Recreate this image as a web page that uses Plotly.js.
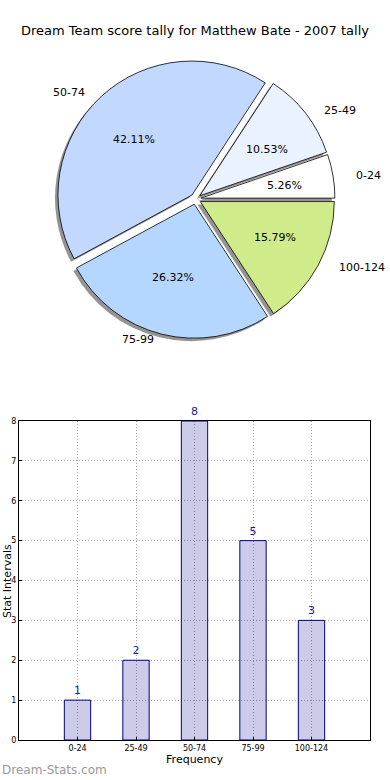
<!DOCTYPE html>
<html>
<head>
<meta charset="utf-8">
<script src="https://cdn.plot.ly/plotly-3.0.1.min.js"></script>
<style>html,body{margin:0;padding:0;background:#fff;}#chart{width:390px;height:780px;}</style>
</head>
<body>
<div id="chart"></div>
<script>
// ---- data ----
const categories = ["0-24", "25-49", "50-74", "75-99", "100-124"];
const counts = [1, 2, 8, 5, 3];
const pieColors = ["#ffffff", "#eaf1ff", "#c3d8ff", "#b5d6ff", "#cfeb8a"];
const yTicks = [0, 1, 2, 3, 4, 5, 6, 7, 8];

// ---- layout constants ----
const W = 390, H = 780;
const FONT = "DejaVu Sans, Verdana, sans-serif";
const pie = { cx: 195.6, cy: 199, r: 134, pull: 0.04, rxText: 141, ryText: 127 };
const px2x = p => p / W;
const px2y = p => 1 - p / H;
const half = pie.r * (1 + pie.pull);
const pieDomain = (dx, dy) => ({
  x: [px2x(pie.cx - half + dx), px2x(pie.cx + half + dx)],
  y: [px2y(pie.cy + half + dy), px2y(pie.cy - half + dy)]
});

const total = counts.reduce((a, b) => a + b, 0);
const pulls = counts.map(() => pie.pull);
// first slice starts at 3 o'clock and slices run counterclockwise
const rotation = 90 - 360 * counts[0] / total;

const shadowPie = {
  type: "pie", values: counts, labels: categories, sort: false,
  direction: "counterclockwise", rotation: rotation, pull: pulls,
  domain: pieDomain(-3, 3),
  marker: { colors: counts.map(() => "rgba(0,0,0,0.42)"), line: { width: 0 } },
  textinfo: "none", hoverinfo: "skip", showlegend: false
};
const mainPie = {
  type: "pie", values: counts, labels: categories, sort: false,
  direction: "counterclockwise", rotation: rotation, pull: pulls,
  domain: pieDomain(0, 0),
  marker: { colors: pieColors, line: { color: "#000000", width: 0.8 } },
  textinfo: "none", hoverinfo: "label+percent", showlegend: false
};

const bars = {
  type: "bar", x: categories, y: counts, width: 0.45,
  xaxis: "x", yaxis: "y",
  marker: { color: "rgba(0,0,140,0.2)", line: { color: "#000080", width: 1 } },
  text: counts.map(String), textposition: "outside", cliponaxis: false,
  textfont: { family: FONT, size: 11, color: "#1a1a9a" },
  hoverinfo: "x+y", showlegend: false
};

// pie text annotations (percent inside, labels outside), placed from the values
const annotations = [];
let cum = 0;
counts.forEach((v, i) => {
  const a0 = cum / total * 2 * Math.PI;
  cum += v;
  const a1 = cum / total * 2 * Math.PI;
  const mid = (a0 + a1) / 2;
  const c = Math.cos(mid), s = Math.sin(mid);
  const pctR = pie.pull + 0.6, labR = pie.pull + 1.1;
  annotations.push({
    xref: "paper", yref: "paper", showarrow: false,
    x: px2x(pie.cx + c * pctR * pie.rxText), y: px2y(pie.cy - s * pctR * pie.ryText),
    text: (v / total * 100).toFixed(2) + "%",
    font: { family: FONT, size: 11, color: "#000" }, xanchor: "center", yanchor: "middle"
  });
  annotations.push({
    xref: "paper", yref: "paper", showarrow: false,
    x: px2x(pie.cx + c * labR * pie.rxText), y: px2y(pie.cy - s * labR * pie.ryText),
    text: categories[i],
    font: { family: FONT, size: 11, color: "#000" },
    xanchor: c < 0 ? "right" : "left", yanchor: "middle"
  });
});
annotations.push({
  xref: "paper", yref: "paper", showarrow: false, x: 0, y: px2y(770),
  xanchor: "left", yanchor: "middle", text: "Dream-Stats.com",
  font: { family: FONT, size: 12, color: "#9a9a9a" }
});
annotations.push({
  xref: "paper", yref: "paper", showarrow: false, x: px2x(7), y: px2y(581),
  xanchor: "center", yanchor: "middle", textangle: -90, text: "Stat Intervals",
  font: { family: FONT, size: 11, color: "#000" }
});

const layout = {
  width: W, height: H,
  margin: { l: 0, r: 0, t: 0, b: 0 },
  paper_bgcolor: "#ffffff", plot_bgcolor: "#ffffff",
  showlegend: false,
  title: { text: "Dream Team score tally for Matthew Bate - 2007 tally",
           font: { family: FONT, size: 13, color: "#000" },
           x: 0.5, xanchor: "center", y: px2y(30), yanchor: "middle", yref: "paper" },
  xaxis: {
    domain: [px2x(19), px2x(370)], anchor: "y", type: "category",
    range: [-1, 5], showgrid: true, gridcolor: "#a8a8a8", griddash: "1px,2px", gridwidth: 1,
    showline: true, linecolor: "#000", linewidth: 1, mirror: true,
    ticks: "inside", ticklen: 3, tickcolor: "#000",
    tickfont: { family: FONT, size: 8, color: "#000" },
    title: { text: "Frequency", font: { family: FONT, size: 11, color: "#000" }, standoff: 3 },
    zeroline: false, fixedrange: true
  },
  yaxis: {
    domain: [px2y(740), px2y(421)], anchor: "x",
    range: [0, 8], tickvals: yTicks, ticktext: yTicks.map(String),
    showgrid: true, gridcolor: "#a8a8a8", griddash: "1px,2px", gridwidth: 1,
    showline: true, linecolor: "#000", linewidth: 1, mirror: true,
    ticks: "inside", ticklen: 3, tickcolor: "#000",
    tickfont: { family: FONT, size: 8, color: "#000" },
    zeroline: false, fixedrange: true
  },
  annotations: annotations
};

Plotly.newPlot("chart", [shadowPie, mainPie, bars], layout, { displayModeBar: false, staticPlot: true });
</script>
</body>
</html>
